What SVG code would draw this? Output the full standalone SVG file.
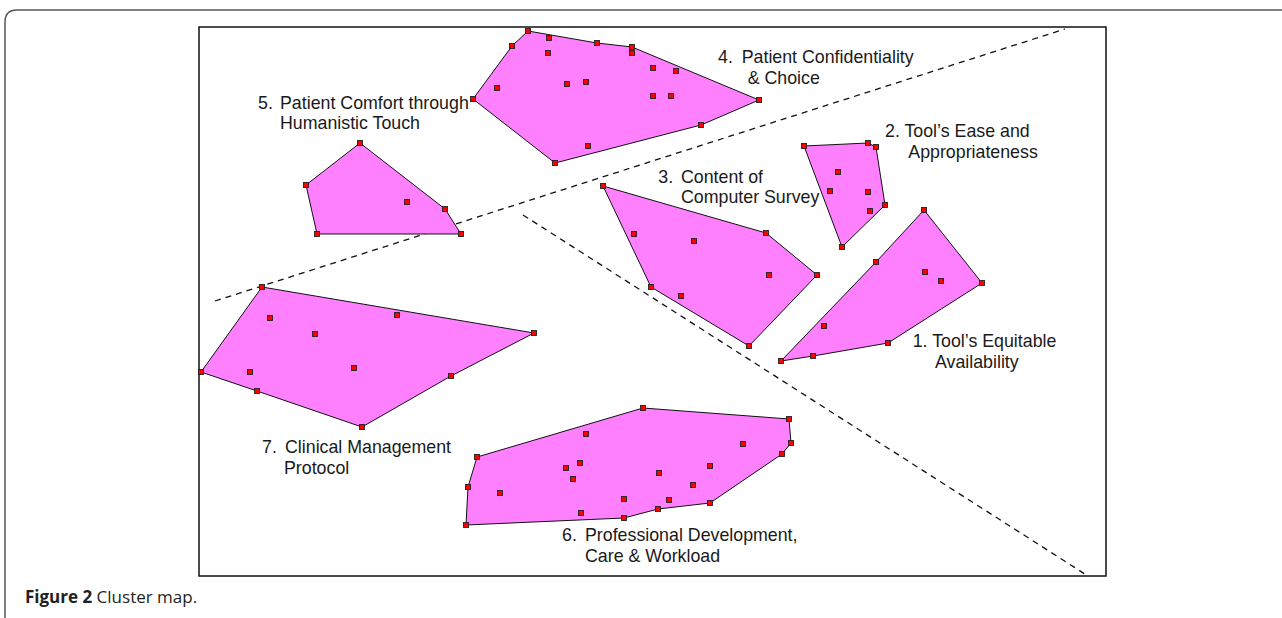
<svg xmlns="http://www.w3.org/2000/svg" xmlns:xlink="http://www.w3.org/1999/xlink" width="1282" height="618" viewBox="0 0 1282 618">
<style>
.hull{fill:#ff80ff;stroke:#111;stroke-width:1}
.pt{fill:#ff0000;stroke:#222;stroke-width:0.9}
.dash{fill:none;stroke:#111;stroke-width:1.3;stroke-dasharray:6 5}
.lbl{font-family:"Liberation Sans",Arial,sans-serif;font-size:17.8px;fill:#1a1a1a}
.cap{font-family:"Open Sans","Liberation Sans",sans-serif;font-size:17px;fill:#231f20}
</style>
<defs>
<rect id="p" class="pt" x="-2.5" y="-2.5" width="5" height="5"/>
</defs>
<rect width="1282" height="618" fill="#fff"/>
<path d="M5,630 V22 Q5,10 17,10 H1290" fill="none" stroke="#555" stroke-width="1.5"/>
<rect x="199" y="27" width="907" height="549" fill="#fff" stroke="#111" stroke-width="1.5"/>
<g id="connectors">
<line class="dash" x1="215" y1="301" x2="1065" y2="29"/>
<line class="dash" x1="523" y1="215" x2="1088" y2="576"/>
</g>
<g id="cluster1">
<polygon class="hull" points="924,210 982,283 888,343 813,356 781,361 876,262"/>
<use href="#p" x="924" y="210"/><use href="#p" x="982" y="283"/><use href="#p" x="888" y="343"/><use href="#p" x="813" y="356"/><use href="#p" x="781" y="361"/><use href="#p" x="876" y="262"/>
<use href="#p" x="925" y="272"/><use href="#p" x="941" y="281"/><use href="#p" x="824" y="326"/>
<text class="lbl"><tspan x="912.7" y="347.3">1. Tool’s Equitable</tspan><tspan x="935" y="368">Availability</tspan></text>
</g>
<g id="cluster2">
<polygon class="hull" points="804,146 868,143 876,147 885,205 842,247"/>
<use href="#p" x="804" y="146"/><use href="#p" x="868" y="143"/><use href="#p" x="876" y="147"/><use href="#p" x="885" y="205"/><use href="#p" x="842" y="247"/>
<use href="#p" x="838" y="172"/><use href="#p" x="830" y="191"/><use href="#p" x="868" y="192"/><use href="#p" x="870" y="211"/>
<text class="lbl"><tspan x="885" y="137.3">2. Tool’s Ease and</tspan><tspan x="908.3" y="158.3">Appropriateness</tspan></text>
</g>
<g id="cluster3">
<polygon class="hull" points="603,186 766,233 817,275 749,346 651,287"/>
<use href="#p" x="603" y="186"/><use href="#p" x="766" y="233"/><use href="#p" x="817" y="275"/><use href="#p" x="749" y="346"/><use href="#p" x="651" y="287"/>
<use href="#p" x="634" y="234"/><use href="#p" x="694" y="241"/><use href="#p" x="769" y="275"/><use href="#p" x="681" y="296"/>
<text class="lbl"><tspan x="658.3" y="183.3">3.</tspan><tspan x="681" y="183.3">Content of</tspan><tspan x="681" y="203.3">Computer Survey</tspan></text>
</g>
<g id="cluster4">
<polygon class="hull" points="528,31 597,43 632,47 759,100 701,125 555,163 473,99 512,46"/>
<use href="#p" x="528" y="31"/><use href="#p" x="597" y="43"/><use href="#p" x="632" y="47"/><use href="#p" x="759" y="100"/><use href="#p" x="701" y="125"/><use href="#p" x="555" y="163"/><use href="#p" x="473" y="99"/><use href="#p" x="512" y="46"/>
<use href="#p" x="549" y="38"/><use href="#p" x="548" y="53"/><use href="#p" x="632" y="53"/><use href="#p" x="653" y="68"/><use href="#p" x="676" y="71"/><use href="#p" x="497" y="88"/><use href="#p" x="567" y="84"/><use href="#p" x="586" y="82"/><use href="#p" x="653" y="96"/><use href="#p" x="671" y="96"/><use href="#p" x="588" y="146"/>
<text class="lbl"><tspan x="718" y="62.7">4.</tspan><tspan x="741.7" y="62.7">Patient Confidentiality</tspan><tspan x="747.7" y="84">&amp; Choice</tspan></text>
</g>
<g id="cluster5">
<polygon class="hull" points="360,143 445,209 461,234 317,234 306,185"/>
<use href="#p" x="360" y="143"/><use href="#p" x="445" y="209"/><use href="#p" x="461" y="234"/><use href="#p" x="317" y="234"/><use href="#p" x="306" y="185"/>
<use href="#p" x="407" y="202"/>
<text class="lbl"><tspan x="258" y="108.5">5.</tspan><tspan x="280" y="108.5">Patient Comfort through</tspan><tspan x="280" y="129">Humanistic Touch</tspan></text>
</g>
<g id="cluster6">
<polygon class="hull" points="643,408 789,419 791,443 782,454 710,503 658,509 624,518 466,525 468,487 477,457"/>
<use href="#p" x="643" y="408"/><use href="#p" x="789" y="419"/><use href="#p" x="791" y="443"/><use href="#p" x="782" y="454"/><use href="#p" x="710" y="503"/><use href="#p" x="658" y="509"/><use href="#p" x="624" y="518"/><use href="#p" x="466" y="525"/><use href="#p" x="468" y="487"/><use href="#p" x="477" y="457"/>
<use href="#p" x="586" y="434"/><use href="#p" x="580" y="463"/><use href="#p" x="566" y="468"/><use href="#p" x="573" y="479"/><use href="#p" x="500" y="493"/><use href="#p" x="581" y="513"/><use href="#p" x="624" y="499"/><use href="#p" x="659" y="473"/><use href="#p" x="669" y="500"/><use href="#p" x="693" y="485"/><use href="#p" x="710" y="466"/><use href="#p" x="743" y="444"/>
<text class="lbl"><tspan x="562" y="541">6.</tspan><tspan x="585" y="541">Professional Development,</tspan><tspan x="585" y="562">Care &amp; Workload</tspan></text>
</g>
<g id="cluster7">
<polygon class="hull" points="262,287 534,333 451,376 362,427 257,391 201,372"/>
<use href="#p" x="262" y="287"/><use href="#p" x="534" y="333"/><use href="#p" x="451" y="376"/><use href="#p" x="362" y="427"/><use href="#p" x="257" y="391"/><use href="#p" x="201" y="372"/>
<use href="#p" x="270" y="318"/><use href="#p" x="397" y="315"/><use href="#p" x="315" y="334"/><use href="#p" x="354" y="368"/><use href="#p" x="250" y="372"/>
<text class="lbl"><tspan x="262" y="453">7.</tspan><tspan x="285" y="453">Clinical Management</tspan><tspan x="284" y="474">Protocol</tspan></text>
</g>
<text class="cap" x="25" y="603"><tspan font-weight="bold">Figure 2</tspan> Cluster map.</text>
</svg>
